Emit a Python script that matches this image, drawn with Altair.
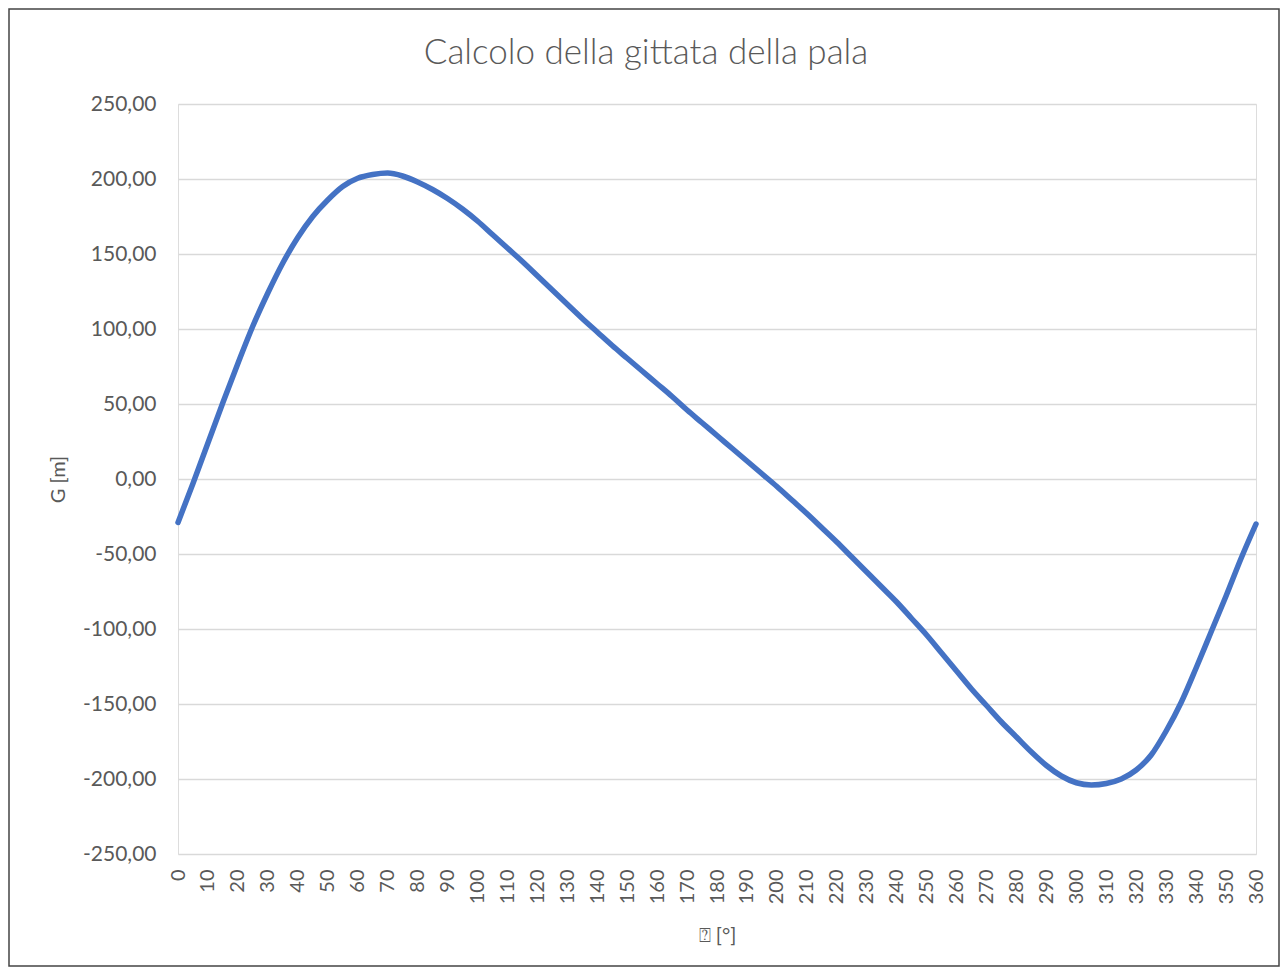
import altair as alt
import pandas as pd

angles = [0, 5, 10, 15, 20, 25, 30, 35, 40, 45, 50, 55, 60, 65, 70, 75, 80, 85, 90,
          95, 100, 105, 110, 115, 120, 125, 130, 135, 140, 145, 150, 155, 160, 165,
          170, 175, 180, 185, 190, 195, 200, 205, 210, 215, 220, 225, 230, 235, 240,
          245, 250, 255, 260, 265, 270, 275, 280, 285, 290, 295, 300, 305, 310, 315,
          320, 325, 330, 335, 340, 345, 350, 355, 360]
gittata = [-29, -3, 24, 51, 77, 102, 124, 144, 161, 175, 186, 195, 200.5, 203, 204,
           202, 198, 193, 187, 180, 172, 163, 154, 145, 135.5, 126, 116.5, 107, 98, 89,
           80.5, 72, 63.5, 55, 46, 37.5, 29, 20.5, 12, 3.5, -5, -14, -23, -32.5, -42,
           -52, -62, -72, -82, -93, -104, -116, -128, -140, -151, -162, -172, -182,
           -191, -198, -202.5, -204, -203, -200, -194, -184, -168, -149, -126, -102,
           -78, -53, -30]
x_ticks = [0, 10, 20, 30, 40, 50, 60, 70, 80, 90, 100, 110, 120, 130, 140, 150, 160,
           170, 180, 190, 200, 210, 220, 230, 240, 250, 260, 270, 280, 290, 300, 310,
           320, 330, 340, 350, 360]
y_ticks = [-250, -200, -150, -100, -50, 0, 50, 100, 150, 200, 250]

title_text = "Calcolo della gittata della pala"
x_title = "\u2370 [°]"
y_title = "G [m]"

df = pd.DataFrame({"angolo": angles, "G": gittata})

FONT = "Lato"
GREY = "#595959"

line = alt.Chart(df).mark_line(
    color="#4472C4", strokeWidth=5.5, strokeCap="round", strokeJoin="round",
    interpolate="monotone"
).encode(
    x=alt.X("angolo:Q",
            scale=alt.Scale(domain=[0, 360], nice=False, zero=False),
            axis=alt.Axis(values=x_ticks, labelAngle=270, title=x_title,
                          grid=False, ticks=False, domain=False,
                          labelPadding=15, titlePadding=22,
                          labelFontSize=20, titleFontSize=20,
                          labelColor=GREY, titleColor=GREY,
                          labelFont=FONT, titleFont=FONT, titleFontWeight="normal",
                          labelOverlap=False, labelFlush=False)),
    y=alt.Y("G:Q",
            scale=alt.Scale(domain=[-250, 250], nice=False),
            axis=alt.Axis(values=y_ticks, title=y_title,
                          labelExpr="(datum.value < 0 ? '-' : '') + replace(format(abs(datum.value), '.2f'), '.', ',')",
                          grid=True, gridColor="#D9D9D9", gridWidth=1.5,
                          ticks=False, domain=False,
                          labelPadding=22, titlePadding=14,
                          labelFontSize=21, titleFontSize=20,
                          labelColor=GREY, titleColor=GREY,
                          labelFont=FONT, titleFont=FONT, titleFontWeight="normal",
                          labelOverlap=False))
)

title_layer = alt.Chart(alt.Data(values=[{"t": title_text}])).mark_text(
    font=FONT, fontSize=35, fontWeight=300, color=GREY, align="center",
    baseline="alphabetic"
).encode(
    text="t:N", x=alt.value(468), y=alt.value(-40)
)

border = alt.Chart(alt.Data(values=[{}])).mark_rect(
    fill=None, stroke="#444444", strokeWidth=1.5
).encode(
    x=alt.value(-169), x2=alt.value(1101),
    y=alt.value(-95), y2=alt.value(862)
)

chart = alt.layer(border, title_layer, line).properties(
    width=1078, height=750,
    autosize=alt.AutoSizeParams(type="none"),
    padding={"left": 170, "top": 96, "right": 24, "bottom": 113},
).configure_view(stroke="transparent", strokeWidth=0).configure(background="white")

chart.save("out.html", embed_options={"renderer": "svg", "actions": False})
